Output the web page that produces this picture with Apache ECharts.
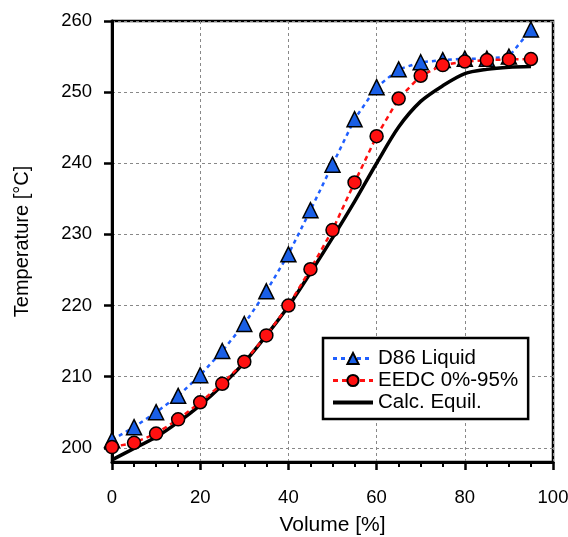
<!DOCTYPE html>
<html><head><meta charset="utf-8">
<script src="https://cdn.jsdelivr.net/npm/echarts@6/dist/echarts.min.js"></script>
<style>html,body{margin:0;padding:0;background:#fff}#c{width:568px;height:537px}</style>
</head><body><div id="c"></div>
<script>
const volume = [0,5,10,15,20,25,30,35,40,45,50,55,60,65,70,75,80,85,90,95];
const d86Liquid = [201.1,202.9,205.0,207.3,210.2,213.6,217.4,222.0,227.2,233.4,239.8,246.2,250.7,253.2,254.2,254.5,254.7,254.7,255.0,258.8];
const eedc = [200.1,200.7,202.0,204.0,206.4,209.0,212.1,215.8,220.0,225.1,230.6,237.3,243.8,249.1,252.3,253.8,254.3,254.5,254.6,254.65];
const calcEquil = [198.3,199.9,201.5,203.6,206.0,208.8,212.0,215.8,219.9,224.6,229.5,234.6,240.0,245.1,248.7,250.9,252.6,253.2,253.5,253.6];
const xTicks = [0,20,40,60,80,100];
const yTicks = [200,210,220,230,240,250,260];
const seriesNames = ['D86 Liquid','EEDC 0%-95%','Calc. Equil.'];

const pair = ys => volume.map((v,i)=>[v, ys[i]]);
const font = 'Liberation Sans, Arial, sans-serif';
const chart = echarts.init(document.getElementById('c'), null, {renderer:'canvas'});
chart.setOption({
  animation:false,
  backgroundColor:'#fff',
  grid:{left:112,right:15,top:21,bottom:75,show:true,borderColor:'#000',borderWidth:2.5,
    containLabel:false,outerBoundsMode:'none'},
  xAxis:{type:'value',min:xTicks[0],max:xTicks[xTicks.length-1],interval:20,
    name:'Volume [%]',nameLocation:'middle',nameGap:53,
    nameTextStyle:{fontFamily:font,fontSize:21,color:'#000'},
    axisLine:{show:true,onZero:false,lineStyle:{color:'#000',width:3}},
    axisTick:{show:true,inside:false,length:8,lineStyle:{color:'#000',width:2.5}},
    minorTick:{show:true,splitNumber:4,length:5,lineStyle:{color:'#000',width:2}},
    axisLabel:{margin:26,fontFamily:font,fontSize:18.5,color:'#000'},
    splitLine:{show:true,lineStyle:{color:'#888',width:1,type:[3,3]}}
  },
  yAxis:{type:'value',min:198,max:260,interval:10,
    name:'Temperature [°C]',nameLocation:'middle',nameGap:80,nameRotate:90,
    nameTextStyle:{fontFamily:font,fontSize:20,color:'#000'},
    axisLine:{show:true,onZero:false,lineStyle:{color:'#000',width:3}},
    axisTick:{show:true,inside:false,length:8,lineStyle:{color:'#000',width:2.5},
      customValues:yTicks},
    axisLabel:{margin:20,fontFamily:font,fontSize:18.5,color:'#000',customValues:yTicks},
    splitLine:{show:true,lineStyle:{color:'#888',width:1,type:[3,3]}}
  },
  legend:{show:true,orient:'vertical',left:323,top:338,
    data:[{name:seriesNames[0],lineStyle:{width:3}},{name:seriesNames[1],lineStyle:{width:3}},
      {name:seriesNames[2],itemStyle:{opacity:0},lineStyle:{width:4,color:'#000'}}],
    backgroundColor:'#fff',borderColor:'#000',borderWidth:2.5,
    padding:[10,10,6,8],itemGap:1,itemWidth:40,itemHeight:14,
    textStyle:{fontFamily:font,fontSize:20.5,color:'#000'}
  },
  series:[
    {name:seriesNames[0],type:'line',data:pair(d86Liquid),
     symbol:'triangle',symbolSize:15,
     itemStyle:{color:'#1a5fe6',borderColor:'#000',borderWidth:1.5},
     lineStyle:{color:'#1f5fff',width:2.5,type:[4,4]},z:3},
    {name:seriesNames[1],type:'line',data:pair(eedc),
     symbol:'circle',symbolSize:13,
     itemStyle:{color:'#ff1010',borderColor:'#000',borderWidth:1.5},
     lineStyle:{color:'#ff1010',width:2.5,type:[5,4]},z:4},
    {name:seriesNames[2],type:'line',data:pair(calcEquil),
     symbol:'none',smooth:0.3,
     itemStyle:{color:'#000'},
     lineStyle:{color:'#000',width:3.5},z:2}
  ]
});
</script></body></html>
